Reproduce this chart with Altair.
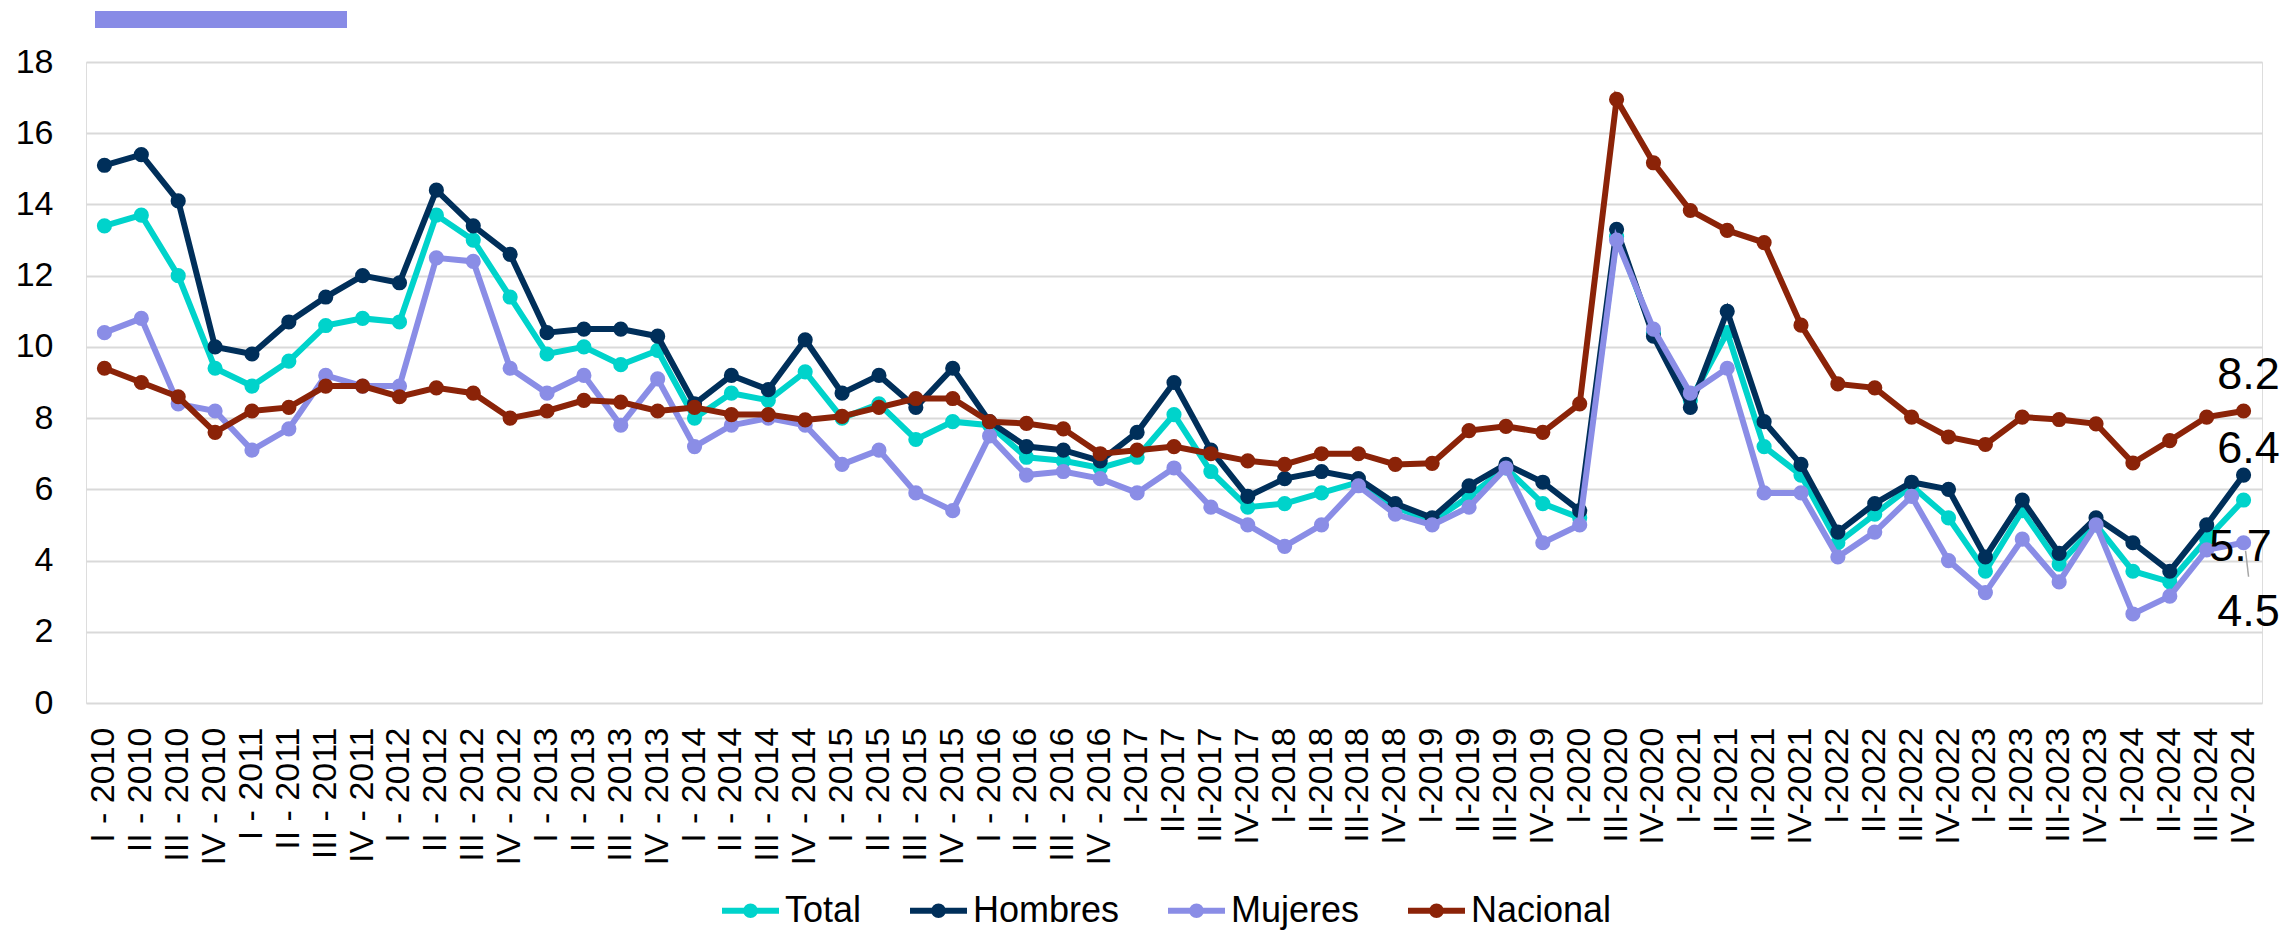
import altair as alt
import pandas as pd

# ---------------- data ----------------
quarters = ["I", "II", "III", "IV"]
categories = []
for yr in range(2010, 2017):
    for q in quarters:
        categories.append(f"{q} - {yr}")
for yr in range(2017, 2025):
    for q in quarters:
        if yr == 2020 and q == "II":
            continue
        categories.append(f"{q}-{yr}")

total = [13.4, 13.7, 12.0, 9.4, 8.9, 9.6, 10.6, 10.8, 10.7, 13.7, 13.0, 11.4,
         9.8, 10.0, 9.5, 9.9, 8.0, 8.7, 8.5, 9.3, 8.0, 8.4, 7.4, 7.9,
         7.8, 6.9, 6.8, 6.6, 6.9, 8.1, 6.5, 5.5, 5.6, 5.9, 6.2, 5.5,
         5.1, 5.8, 6.6, 5.6, 5.2, 13.1, 10.4, 8.5, 10.4, 7.2, 6.4,
         4.5, 5.3, 6.1, 5.2, 3.7, 5.4, 3.9, 5.0, 3.7, 3.4, 4.6, 5.7]
hombres = [15.1, 15.4, 14.1, 10.0, 9.8, 10.7, 11.4, 12.0, 11.8, 14.4, 13.4, 12.6,
           10.4, 10.5, 10.5, 10.3, 8.4, 9.2, 8.8, 10.2, 8.7, 9.2, 8.3, 9.4,
           7.9, 7.2, 7.1, 6.8, 7.6, 9.0, 7.1, 5.8, 6.3, 6.5, 6.3, 5.6,
           5.2, 6.1, 6.7, 6.2, 5.4, 13.3, 10.3, 8.3, 11.0, 7.9, 6.7,
           4.8, 5.6, 6.2, 6.0, 4.1, 5.7, 4.2, 5.2, 4.5, 3.7, 5.0, 6.4]
mujeres = [10.4, 10.8, 8.4, 8.2, 7.1, 7.7, 9.2, 8.9, 8.9, 12.5, 12.4, 9.4,
           8.7, 9.2, 7.8, 9.1, 7.2, 7.8, 8.0, 7.8, 6.7, 7.1, 5.9, 5.4,
           7.5, 6.4, 6.5, 6.3, 5.9, 6.6, 5.5, 5.0, 4.4, 5.0, 6.1, 5.3,
           5.0, 5.5, 6.6, 4.5, 5.0, 13.0, 10.5, 8.7, 9.4, 5.9, 5.9,
           4.1, 4.8, 5.8, 4.0, 3.1, 4.6, 3.4, 5.0, 2.5, 3.0, 4.3, 4.5]
nacional = [9.4, 9.0, 8.6, 7.6, 8.2, 8.3, 8.9, 8.9, 8.6, 8.85, 8.7, 8.0,
            8.2, 8.5, 8.45, 8.2, 8.3, 8.1, 8.1, 7.95, 8.05, 8.3, 8.55, 8.55,
            7.9, 7.85, 7.7, 7.0, 7.1, 7.2, 7.0, 6.8, 6.7, 7.0, 7.0, 6.7,
            6.73, 7.65, 7.77, 7.6, 8.4, 16.95, 15.17, 13.83, 13.27, 12.93, 10.61,
            8.96, 8.85, 8.03, 7.47, 7.26, 8.03, 7.96, 7.84, 6.74, 7.37, 8.03, 8.2]

series_names = ["Total", "Hombres", "Mujeres", "Nacional"]
series_values = [total, hombres, mujeres, nacional]

# ---------------- styles ----------------
series_colors = ["#00D3CB", "#002F5A", "#8A8DE6", "#8B2308"]
end_label_offsets = {"Total": (-3, 47), "Hombres": (5, -26), "Mujeres": (5, 69), "Nacional": (5, -36)}
FONT = "Liberation Sans"

rows = []
for name, vals in zip(series_names, series_values):
    for cat, v in zip(categories, vals):
        rows.append({"periodo": cat, "serie": name, "valor": v})
df = pd.DataFrame(rows)
last = df[df["periodo"] == categories[-1]].copy()
last["etiqueta"] = last["valor"].map(lambda v: f"{v:.1f}")

color_scale = alt.Scale(domain=series_names, range=series_colors)
legend = alt.Legend(
    orient="none", legendX=633, legendY=817, direction="horizontal", title=None,
    symbolType="M-1,0L1,0M-0.15,0A0.15,0.15,0,1,1,0.15,0A0.15,0.15,0,1,1,-0.15,0Z",
    symbolSize=3249, symbolStrokeWidth=6, labelFontSize=36, labelOffset=3,
    columnPadding=36, labelFont=FONT, labelColor="#000000", symbolOpacity=1,
)

x_enc = alt.X(
    "periodo:N", sort=categories, title=None,
    axis=alt.Axis(labelAngle=270, labelFontSize=34, labelPadding=24, ticks=False,
                  domain=False, grid=False, labelOverlap=False, labelLimit=400,
                  labelColor="#000000", labelFont=FONT),
)
y_enc = alt.Y(
    "valor:Q", title=None,
    scale=alt.Scale(domain=[0, 18], nice=False, zero=True),
    axis=alt.Axis(values=list(range(0, 19, 2)), labelFontSize=34, labelPadding=33,
                  ticks=False, domain=False, grid=True, gridColor="#D9D9D9",
                  gridWidth=2, labelColor="#000000", labelFont=FONT),
)
stroke_enc = alt.Stroke("serie:N", scale=color_scale, sort=series_names, legend=legend)
fill_enc = alt.Fill("serie:N", scale=color_scale, sort=series_names, legend=legend)

base = alt.Chart(df).encode(x=x_enc, y=y_enc)

deco = alt.Chart(pd.DataFrame({"a": [0]})).mark_rect(color="#888BE6").encode(
    x=alt.value(9), x2=alt.value(261), y=alt.value(-51), y2=alt.value(-34)
)

# leader line for the Mujeres end label
leader = alt.Chart(last[last["serie"] == "Mujeres"]).mark_rule(
    color="#A6A6A6", strokeWidth=1.5, xOffset=2, x2Offset=5, yOffset=8, y2Offset=34
).encode(
    x=alt.X("periodo:N", sort=categories),
    x2=alt.X2("periodo"),
    y=alt.Y("valor:Q"),
    y2=alt.Y2("valor"),
)

layers = [deco, leader]
for name in series_names:
    sel = base.transform_filter(alt.datum.serie == name)
    layers.append(sel.mark_line(strokeWidth=6).encode(stroke=stroke_enc))
    layers.append(sel.mark_circle(size=230, opacity=1).encode(fill=fill_enc))

for name in series_names:
    dx, dy = end_label_offsets[name]
    layers.append(
        alt.Chart(last[last["serie"] == name]).mark_text(
            fontSize=45, font=FONT, color="#000000", align="center",
            baseline="middle", dx=dx, dy=dy
        ).encode(
            x=alt.X("periodo:N", sort=categories),
            y=alt.Y("valor:Q"),
            text="etiqueta:N",
        )
    )

chart = alt.layer(*layers).properties(
    width=2176, height=641,
    autosize=alt.AutoSizeParams(type="none"),
    padding={"left": 78, "top": 54, "right": 18, "bottom": 229},
).configure_view(stroke=None).configure(font=FONT)

chart.save("out.html", embed_options={"renderer": "svg", "actions": False})
